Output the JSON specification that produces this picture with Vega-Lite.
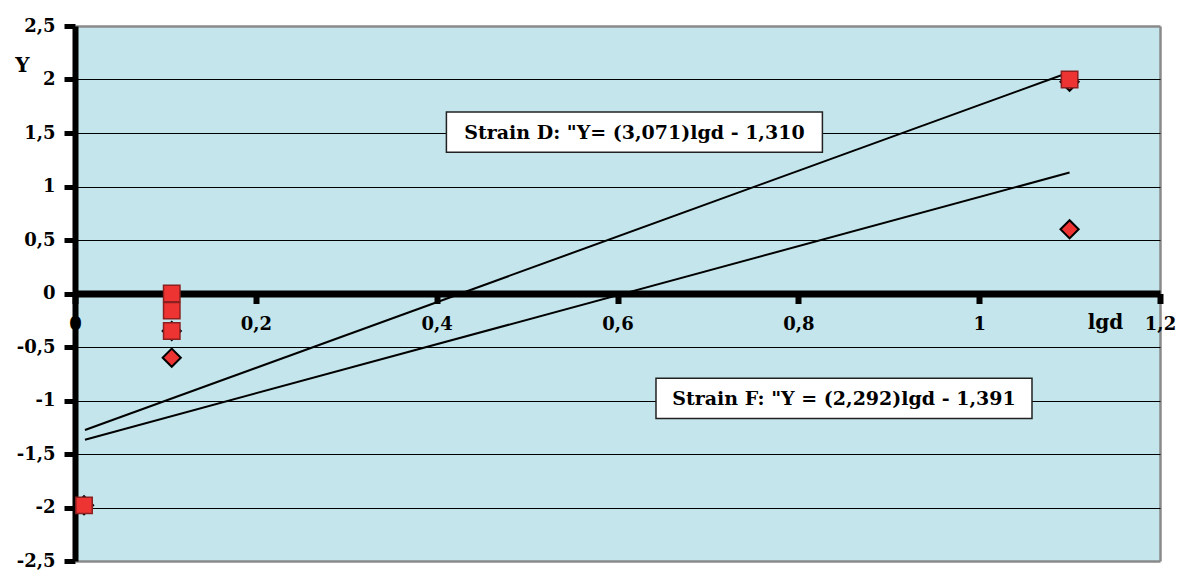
{
  "$schema": "https://vega.github.io/schema/vega-lite/v6.json",
  "width": 1085,
  "height": 535,
  "autosize": {"type": "none"},
  "padding": {"left": 75, "top": 26, "right": 19, "bottom": 13},
  "background": "white",
  "config": {
    "locale": {"number": {"decimal": ",", "thousands": " ", "grouping": [3], "currency": ["", ""], "minus": "-"}},
    "view": {"fill": "#C3E5EB", "stroke": null},
    "font": "DejaVu Serif"
  },
  "datasets": {
    "points": [
      {"strain": "F", "lgd": 0.01, "Y": -1.98},
      {"strain": "F", "lgd": 0.107, "Y": -0.35},
      {"strain": "F", "lgd": 0.107, "Y": -0.6},
      {"strain": "F", "lgd": 1.1, "Y": 1.98},
      {"strain": "F", "lgd": 1.1, "Y": 0.6},
      {"strain": "D", "lgd": 0.01, "Y": -1.98},
      {"strain": "D", "lgd": 0.107, "Y": 0.0},
      {"strain": "D", "lgd": 0.107, "Y": -0.16},
      {"strain": "D", "lgd": 0.107, "Y": -0.35},
      {"strain": "D", "lgd": 1.1, "Y": 2.0}
    ],
    "trend": [
      {"strain": "D", "lgd": 0.011, "Y": -1.276},
      {"strain": "D", "lgd": 1.1, "Y": 2.068},
      {"strain": "F", "lgd": 0.011, "Y": -1.366},
      {"strain": "F", "lgd": 1.1, "Y": 1.130}
    ],
    "notes": [
      {"label": "Strain D: \"Y= (3,071)lgd - 1,310", "lgd": 0.6187, "Y": 1.509},
      {"label": "Strain F: \"Y = (2,292)lgd - 1,391", "lgd": 0.8505, "Y": -0.981}
    ]
  },
  "encoding": {
    "x": {
      "field": "lgd", "type": "quantitative",
      "scale": {"domain": [0, 1.2], "nice": false, "zero": false},
      "axis": {
        "title": "lgd", "offset": -267.5, "values": [0, 0.2, 0.4, 0.6, 0.8, 1, 1.2],
        "format": ".1~f", "grid": true,
        "gridColor": {"condition": {"test": "datum.value >= 1.2", "value": "#8a8a8a"}, "value": "transparent"},
        "gridWidth": 2.5, "gridOpacity": 1,
        "domainColor": "black", "domainWidth": 7,
        "tickColor": "black", "tickWidth": 6, "tickSize": 10,
        "labelFont": "DejaVu Serif", "labelFontWeight": "bold", "labelFontSize": 18, "labelColor": "black",
        "labelBaseline": "middle", "labelPadding": 21, "labelFlush": false, "labelOverlap": false,
        "titleFont": "DejaVu Serif", "titleFontWeight": "bold", "titleFontSize": 20, "titleColor": "black",
        "titleX": 1030, "titleY": 29, "titleAlign": "center", "titleBaseline": "middle", "titleAnchor": null
      }
    },
    "y": {
      "field": "Y", "type": "quantitative",
      "scale": {"domain": [-2.5, 2.5], "nice": false, "zero": false},
      "axis": {
        "title": "Y", "values": [-2.5, -2, -1.5, -1, -0.5, 0, 0.5, 1, 1.5, 2, 2.5],
        "format": ".1~f", "grid": true,
        "gridColor": {"condition": {"test": "abs(datum.value) >= 2.5", "value": "#8a8a8a"}, "value": "black"},
        "gridWidth": {"condition": {"test": "abs(datum.value) >= 2.5", "value": 2.5}, "value": 1},
        "gridOpacity": 1,
        "domainColor": "black", "domainWidth": 6,
        "tickColor": "black", "tickWidth": 5, "tickSize": 11,
        "labelFont": "DejaVu Serif", "labelFontWeight": "bold", "labelFontSize": 18, "labelColor": "black",
        "labelPadding": 9, "labelBaseline": "middle", "labelFlush": false, "labelOverlap": false,
        "titleFont": "DejaVu Serif", "titleFontWeight": "bold", "titleFontSize": 20, "titleColor": "black",
        "titleAngle": 0, "titleX": -53, "titleY": 39, "titleAlign": "center", "titleBaseline": "middle", "titleAnchor": null
      }
    }
  },
  "layer": [
    {
      "data": {"name": "trend"},
      "mark": {"type": "line", "color": "black", "strokeWidth": 2},
      "encoding": {"detail": {"field": "strain"}}
    },
    {
      "data": {"name": "points"},
      "transform": [{"filter": "datum.strain === 'F'"}],
      "mark": {"type": "point", "shape": "diamond", "size": 330, "filled": true, "fill": "#EE3333", "stroke": "black", "strokeWidth": 2, "opacity": 1}
    },
    {
      "data": {"name": "points"},
      "transform": [{"filter": "datum.strain === 'D'"}],
      "mark": {"type": "point", "shape": "square", "size": 270, "filled": true, "fill": "#EE3333", "stroke": "#8B2020", "strokeWidth": 1.5, "opacity": 1}
    },
    {
      "data": {"name": "notes"},
      "mark": {"type": "point", "shape": "M-1,-0.107H1V0.107H-1Z", "size": 141376, "filled": true, "fill": "white", "stroke": "#222222", "strokeWidth": 1.5, "opacity": 1}
    },
    {
      "data": {"name": "notes"},
      "mark": {"type": "text", "font": "DejaVu Serif", "fontWeight": "bold", "fontSize": 19, "color": "black", "align": "center", "baseline": "middle", "dy": 1},
      "encoding": {"text": {"field": "label"}}
    }
  ]
}
